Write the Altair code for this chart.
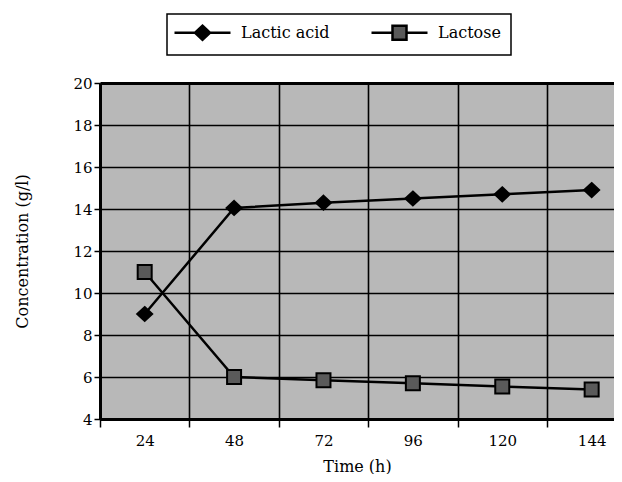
import altair as alt
import pandas as pd

# ---- data ----
time_h = [24, 48, 72, 96, 120, 144]
lactic_acid = [9.0, 14.05, 14.3, 14.5, 14.7, 14.9]
lactose = [11.0, 6.0, 5.85, 5.7, 5.55, 5.4]
series_names = ["Lactic acid", "Lactose"]
x_axis_values = [12, 24, 36, 48, 60, 72, 84, 96, 108, 120, 132, 144]
y_axis_values = [4, 6, 8, 10, 12, 14, 16, 18, 20]

df = pd.DataFrame({
    "Time": time_h + time_h,
    "Concentration": lactic_acid + lactose,
    "Series": [series_names[0]] * len(time_h) + [series_names[1]] * len(time_h),
})

FONT = "DejaVu Serif"

marker_paths = [
    "M0,-1L1.07,0L0,1L-1.07,0Z",
    "M-1,-1L1,-1L1,1L-1,1Z",
]
legend_paths = [
    "M-4,0L-1.07,0M1.07,0L4,0M0,-1L1.07,0L0,1L-1.07,0Z",
    "M-4,0L-1,0M1,0L4,0M-1,-1L1,-1L1,1L-1,1Z",
]
fills = ["black", "#5a5a5a"]
strokes = ["black", "black"]

x_enc = alt.X(
    "Time:Q",
    title="Time (h)",
    scale=alt.Scale(domain=[12, 150], nice=False, zero=False),
    axis=alt.Axis(
        values=x_axis_values,
        labelExpr="datum.value % 24 == 0 ? datum.label : ''",
        tickOpacity={"condition": {"test": "datum.value % 24 == 12", "value": 1}, "value": 0},
        gridOpacity={"condition": {"test": "datum.value % 24 == 12", "value": 1}, "value": 0},
        tickSize=8,
        labelPadding=6,
        titlePadding=10,
    ),
)
y_enc = alt.Y(
    "Concentration:Q",
    title="Concentration (g/l)",
    scale=alt.Scale(domain=[4, 20], nice=False, zero=False),
    axis=alt.Axis(
        values=y_axis_values,
        tickSize=6,
        labelPadding=2,
        titlePadding=42,
        gridWidth={"condition": {"test": "datum.value == 20", "value": 3}, "value": 1.6},
    ),
)

base = alt.Chart(df)

lines = base.mark_line(color="black", strokeWidth=2.5).encode(
    x=x_enc, y=y_enc, detail="Series:N"
)

points = base.mark_point(filled=True, size=196, stroke="black", strokeWidth=2, opacity=1).encode(
    x=x_enc,
    y=y_enc,
    shape=alt.Shape("Series:N", scale=alt.Scale(domain=series_names, range=marker_paths), legend=None),
    fill=alt.Fill("Series:N", scale=alt.Scale(domain=series_names, range=fills), legend=None),
)

legend_layer = base.transform_filter("false").mark_point(
    filled=True, size=196, strokeWidth=2.5, opacity=1
).encode(
    x=x_enc,
    y=y_enc,
    shape=alt.Shape(
        "Series:N",
        scale=alt.Scale(domain=series_names, range=legend_paths),
        legend=alt.Legend(title=None),
    ),
    fill=alt.Fill(
        "Series:N",
        scale=alt.Scale(domain=series_names, range=fills),
        legend=alt.Legend(title=None),
    ),
    stroke=alt.Stroke(
        "Series:N",
        scale=alt.Scale(domain=series_names, range=strokes),
        legend=alt.Legend(title=None),
    ),
)

chart = (
    alt.layer(lines, points, legend_layer)
    .resolve_scale(shape="independent", fill="independent", stroke="independent")
    .properties(
        width=514,
        height=336,
        autosize=alt.AutoSizeParams(type="none"),
        padding={"left": 92, "top": 75, "right": 0, "bottom": 55},
    )
    .configure_view(fill="#b8b8b8", stroke=None)
    .configure_axis(
        domainColor="black",
        domainWidth=3,
        gridColor="black",
        gridWidth=1.6,
        tickColor="black",
        tickWidth=1.5,
        labelFont=FONT,
        labelFontSize=15,
        labelColor="black",
        titleFont=FONT,
        titleFontSize=16,
        titleFontWeight="normal",
        titleColor="black",
    )
    .configure_legend(
        orient="none",
        legendX=67,
        legendY=-69,
        direction="horizontal",
        padding=10,
        strokeColor="black",
        strokeWidth=1.5,
        labelFont=FONT,
        labelFontSize=16,
        labelColor="black",
        symbolStrokeColor="black",
        symbolStrokeWidth=2.5,
        symbolSize=196,
        symbolOpacity=1,
        symbolOffset=17,
        labelOffset=30,
        columnPadding=36,
    )
)

chart.save("out.html", embed_options={"renderer": "svg", "actions": False})
